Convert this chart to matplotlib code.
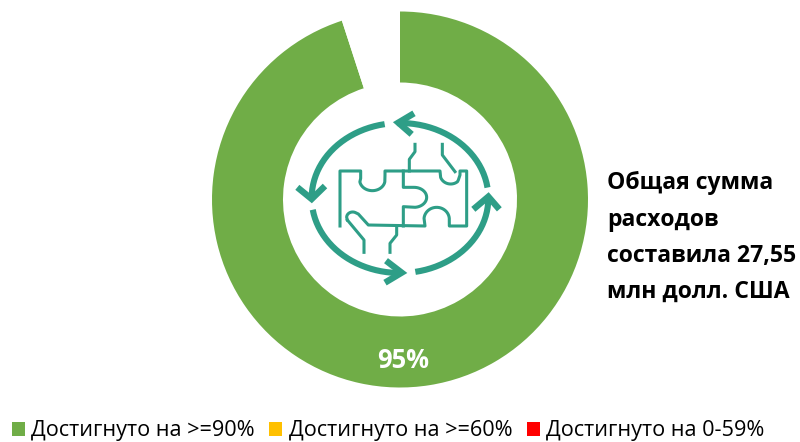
import numpy as np
import matplotlib
matplotlib.use("Agg")
import matplotlib.pyplot as plt

categories = ["Достигнуто на >=90%", "Достигнуто на >=60%", "Достигнуто на 0-59%"]
values = [95, 0, 0]
remainder = [5]
colors = ["#70AD47", "#FFC000", "#FF0000"]
center_label = "95%"
note_lines = ["Общая сумма", "расходов", "составила 27,55", "млн долл. США"]
ICON = "#2E9E87"

plt.rcParams["font.family"] = ["Open Sans", "DejaVu Sans"]
fig = plt.figure(figsize=(8, 4.42), dpi=100, facecolor="white")

# donut
W, H = 800, 442
cx, cy, R = 400, 199.5, 188
ax = fig.add_axes([(cx - R) / W, 1 - (cy + R) / H, 2 * R / W, 2 * R / H])
wedges, _ = ax.pie(values + remainder, colors=colors + ["white"], startangle=90,
                   counterclock=False, radius=1, wedgeprops=dict(width=1 - 117 / 188, linewidth=0))
ax.set_xlim(-1, 1)
ax.set_ylim(-1, 1)
ax.axis("off")

# overlay in pixel space
ov = fig.add_axes([0, 0, 1, 1])
ov.set_xlim(0, W)
ov.set_ylim(H, 0)
ov.axis("off")
ov.patch.set_alpha(0)

ov.text(403, 360, center_label, color="white", fontsize=18.4, fontweight="bold", ha="center", va="center")
for line, y in zip(note_lines, [183, 220, 256, 292]):
    ov.text(607, y, line, color="black", fontsize=16.6, fontweight="bold", ha="left", va="center")

def Z(pts):
    p = np.array(pts, float)
    return 290 + p[:, 0] / 3, 100 + p[:, 1] / 3

def arc(c, rx, ry, a0, a1, n=24):
    t = np.radians(np.linspace(a0, a1, n))
    return list(zip(c[0] + rx * np.cos(t), c[1] + ry * np.sin(t)))

# circular arrows (zoom coordinates, screen angles)
c0 = (330, 294)
for a0, a1 in [(-8, -92), (-100, -180), (171, 92), (80, 0)]:
    x, y = Z(arc(c0, 265, 225, a0, a1))
    ov.plot(x, y, color=ICON, lw=4.4, solid_capstyle="butt")
for head in [[(372, 40), (325, 68), (365, 103)], [(22, 262), (65, 297), (105, 258)],
             [(288, 482), (335, 518), (285, 548)], [(550, 328), (595, 290), (628, 328)]]:
    x, y = Z(head)
    ov.plot(x, y, color=ICON, lw=4.6, solid_joinstyle="miter", solid_capstyle="butt")

# puzzle outline
outline = ([(150, 378), (150, 213), (212, 213), (212, 235)] + arc((247, 240), 38, 32, 170, 10) +
           [(285, 225), (285, 213), (450, 213)] + arc((482, 222), 32, 30, 160, 50) +
           [(505, 240), (510, 225), (510, 213), (530, 213), (530, 378), (478, 378)] +
           arc((440, 358), 38, 36, -5, -175) + [(405, 378), (235, 375), (205, 342)] +
           arc((188, 352), 18, 16, -60, -180) + [(172, 360)])
x, y = Z(outline)
ov.plot(x, y, color=ICON, lw=2.2, solid_joinstyle="round")
segments = [
    [(340, 213), (340, 262), (370, 262)] + arc((372, 292), 38, 30, -85, 85) + [(340, 320), (340, 378)],
    [(172, 360), (222, 420), (222, 457)],
    [(320, 378), (320, 405), (300, 430), (300, 457)],
    [(358, 213), (358, 178), (375, 155), (375, 133)],
    [(457, 133), (457, 165), (495, 215)],
]
for s in segments:
    x, y = Z(s)
    ov.plot(x, y, color=ICON, lw=2.2)

leg = fig.legend(wedges[:3], categories, ncol=3, loc="lower left", bbox_to_anchor=(-0.004, -0.033),
                 frameon=False, fontsize=15.6, handlelength=0.6, handleheight=0.6,
                 handletextpad=0.3, columnspacing=0.66, borderpad=0.2)

fig.savefig("out.png", dpi=100, facecolor="white")
